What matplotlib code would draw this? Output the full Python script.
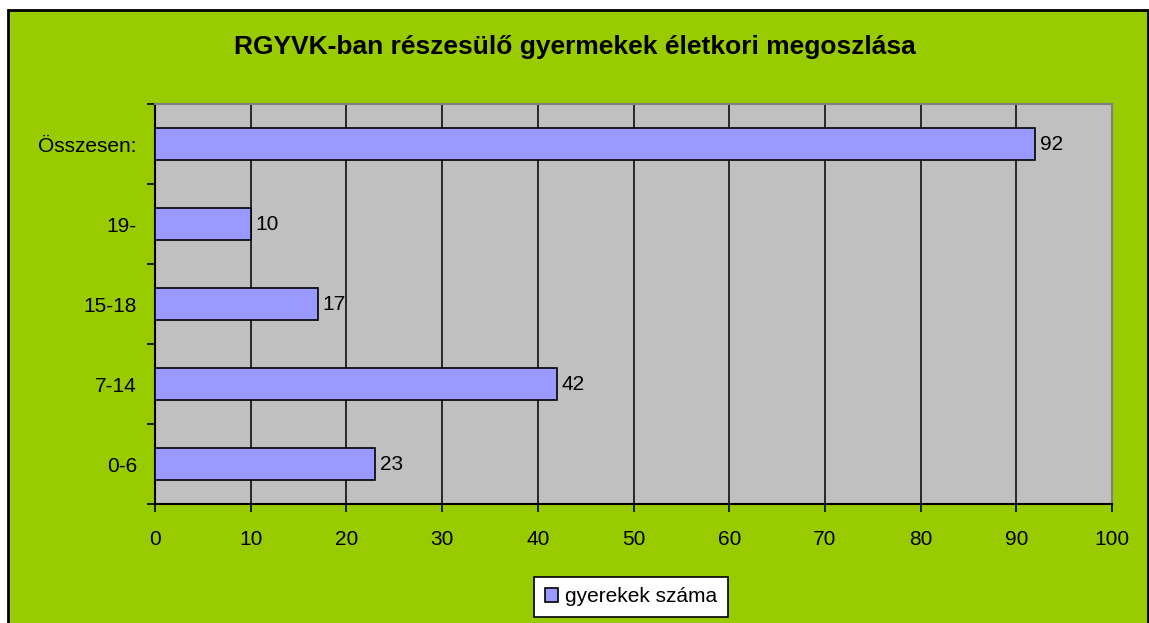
import matplotlib
matplotlib.use("Agg")
import matplotlib.pyplot as plt
from matplotlib.patches import Rectangle

# data
categories = ["0-6", "7-14", "15-18", "19-", "Összesen:"]
counts = [23, 42, 17, 10, 92]
series_name = "gyerekek száma"
title = "RGYVK-ban részesülő gyermekek életkori megoszlása"
xticks = list(range(0, 101, 10))

plt.rcParams['font.family'] = ['Liberation Sans', 'DejaVu Sans']
fs = 15

W, H = 1149, 623
fig = plt.figure(figsize=(W / 100, H / 100), dpi=100)
fig.patch.set_facecolor("white")

# green chart background with black frame
fig.patches.append(Rectangle((8 / W, -0.05), (1148 - 8) / W, 1.05 - 10 / H,
                             transform=fig.transFigure, facecolor="#99CC00",
                             edgecolor="black", linewidth=2, zorder=-10))

left, right, top, bottom = 155, 1112, 104, 504
ax = fig.add_axes([left / W, (H - bottom) / H, (right - left) / W, (bottom - top) / H])
ax.set_facecolor("#C0C0C0")

y = range(len(categories))
bars = ax.barh(y, counts, height=0.4, color="#9999FF", edgecolor="black",
               linewidth=1.2, zorder=3, label=series_name)

for yi, v in zip(y, counts):
    ax.text(v + 0.5, yi, str(v), va="center", ha="left", fontsize=fs, zorder=4)

ax.set_xlim(0, 100)
ax.set_ylim(-0.5, len(categories) - 0.5)
ax.set_xticks(xticks)
ax.set_xticklabels([str(t) for t in xticks], fontsize=fs)
ax.xaxis.grid(True, color="black", linewidth=1.1, zorder=1)
ax.set_axisbelow(True)

ax.set_yticks(list(y))
ax.set_yticklabels(categories, fontsize=fs)
ax.set_yticks([i - 0.5 for i in range(len(categories) + 1)], minor=True)
ax.tick_params(axis="y", which="major", length=0, pad=13)
ax.tick_params(axis="y", which="minor", length=6, width=1.2, direction="out")
ax.tick_params(axis="x", length=6, width=1.2, direction="out", pad=13)

for s in ["left", "bottom"]:
    ax.spines[s].set_color("black")
    ax.spines[s].set_linewidth(1.5)
for s in ["right", "top"]:
    ax.spines[s].set_color("#808080")
    ax.spines[s].set_linewidth(1.5)

fig.text(575 / W, 1 - 47 / H, title, ha="center", va="center",
         fontsize=19, fontweight="bold")

leg = fig.legend(handles=[bars], labels=[series_name], loc="center",
                 bbox_to_anchor=(631 / W, (H - 597) / H), fontsize=fs,
                 fancybox=False, frameon=True, handlelength=0.65, handleheight=0.65,
                 handletextpad=0.35, borderpad=0.5, borderaxespad=0)
leg.get_frame().set_edgecolor("black")
leg.get_frame().set_linewidth(1.2)
leg.get_frame().set_facecolor("white")
leg.get_frame().set_alpha(1)

fig.savefig("out.png", dpi=100, facecolor=fig.get_facecolor())
